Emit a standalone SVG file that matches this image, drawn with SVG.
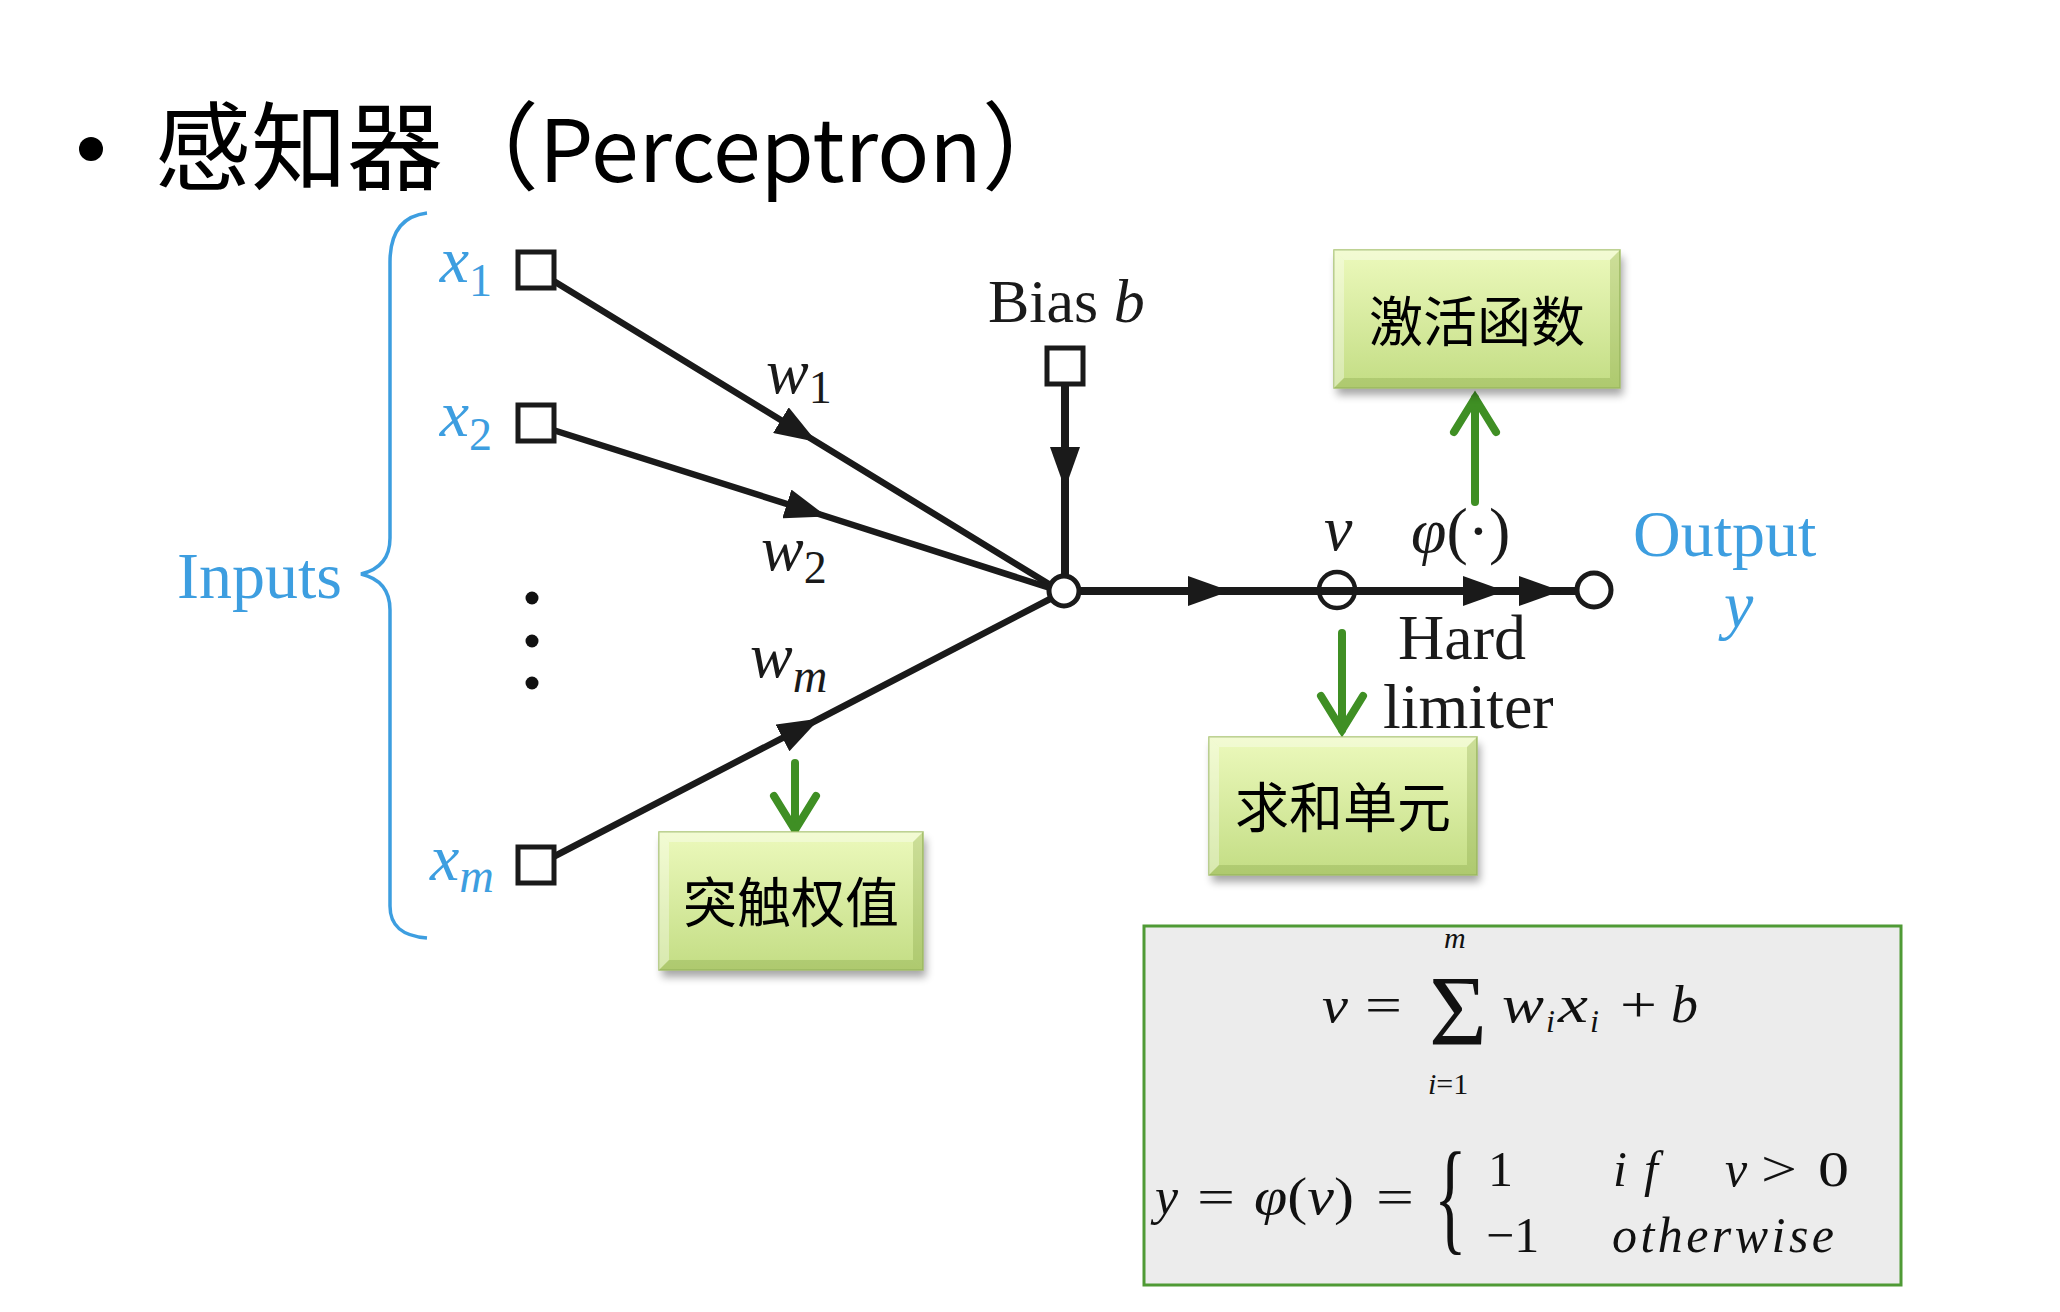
<svg xmlns="http://www.w3.org/2000/svg" width="2060" height="1312" viewBox="0 0 2060 1312">
<style>
.it{font-style:italic;}
.lbl{font-family:"Liberation Serif","Times New Roman",serif;font-size:64px;fill:#1a1a1a;}
.blbl{font-family:"Liberation Serif","Times New Roman",serif;font-size:66px;fill:#3d9ee0;}
.fm{font-family:"Liberation Serif","Times New Roman",serif;font-size:50px;fill:#111;}
.cn{font-family:"Noto Sans CJK SC",sans-serif;font-size:54px;fill:#000;text-anchor:middle;}
.wire{fill:none;stroke:#1a1a1a;stroke-width:6.5;}
.wire2{fill:none;stroke:#1a1a1a;stroke-width:8;}
.sq{fill:#fff;stroke:#1a1a1a;stroke-width:5;}
.garrow{fill:none;stroke:#3f8f24;stroke-width:8;stroke-linecap:round;stroke-linejoin:miter;}
.bevL{fill:#ffffff;opacity:0.35;}
.bevD{fill:#6f8f2f;opacity:0.25;}
</style>
<defs>
<linearGradient id="gg" x1="0" y1="0" x2="0" y2="1">
<stop offset="0" stop-color="#ecf9bc"/>
<stop offset="1" stop-color="#c3dd84"/>
</linearGradient>
<filter id="sh" x="-10%" y="-10%" width="120%" height="130%">
<feGaussianBlur stdDeviation="4"/>
</filter>
<marker id="tri" markerUnits="userSpaceOnUse" viewBox="0 0 42 30" refX="40" refY="15" markerWidth="42" markerHeight="30" orient="auto">
<path d="M0,0 L42,15 L0,30 Z" fill="#1a1a1a"/>
</marker>
</defs>
<rect width="2060" height="1312" fill="#fff"/>

<g id="title">
<circle cx="91" cy="149" r="12" fill="#000"/>
<text x="155" y="182" font-family="'Noto Sans CJK SC',sans-serif" font-size="96" fill="#000">感知器（<tspan font-size="86">Perceptron</tspan>）</text>
</g>

<g id="inputs-brace">
<path d="M427,213 C402,216 390,232 390,262 L390,538 C390,560 378,570 361,574 C378,578 390,588 390,610 L390,906 C390,926 402,936 427,938" fill="none" stroke="#3d9ee0" stroke-width="3.5"/>
<text class="blbl" x="177" y="598">Inputs</text>
</g>

<g id="connectors">
<polyline class="wire" points="552,280 815,441 1052,586" marker-mid="url(#tri)"/>
<polyline class="wire" points="553,430 825,516 1050,588" marker-mid="url(#tri)"/>
<polyline class="wire" points="553,857 818,719.5 1052,598" marker-mid="url(#tri)"/>
<polyline class="wire2" points="1065,384 1065,487 1065,576" marker-mid="url(#tri)"/>
<polyline class="wire2" points="1079,591 1228,591 1503,591 1559,591 1577,591" marker-mid="url(#tri)"/>
<polyline class="garrow" points="795,763 795,830"/>
<polyline class="garrow" points="774,796 795,830 816,796"/>
<polyline class="garrow" points="1342,633 1342,730"/>
<polyline class="garrow" points="1321,696 1342,730 1363,696"/>
<polyline class="garrow" points="1475,502 1475,398"/>
<polyline class="garrow" points="1454,432 1475,398 1496,432"/>
</g>

<g id="x1">
<rect class="sq" x="518" y="252" width="36" height="36"/>
<text class="blbl it" x="492" y="282" text-anchor="end">x<tspan dy="14" font-size="46" font-style="normal">1</tspan></text>
</g>
<g id="x2">
<rect class="sq" x="518" y="405" width="36" height="36"/>
<text class="blbl it" x="492" y="436" text-anchor="end">x<tspan dy="14" font-size="46" font-style="normal">2</tspan></text>
</g>
<g id="dots">
<circle cx="532" cy="598" r="6.5" fill="#111"/>
<circle cx="532" cy="641" r="6.5" fill="#111"/>
<circle cx="532" cy="683" r="6.5" fill="#111"/>
</g>
<g id="xm">
<rect class="sq" x="518" y="847" width="36" height="36"/>
<text class="blbl it" x="494" y="880" text-anchor="end">x<tspan dy="12" font-size="48">m</tspan></text>
</g>

<g id="weights">
<text class="lbl it" x="766" y="393">w<tspan dy="10" font-size="46" font-style="normal">1</tspan></text>
<text class="lbl it" x="761" y="570">w<tspan dy="13" font-size="46" font-style="normal">2</tspan></text>
<text class="lbl it" x="750" y="677">w<tspan dy="15" font-size="48">m</tspan></text>
</g>

<g id="bias">
<rect class="sq" x="1047" y="348" width="36" height="36"/>
<text class="lbl" x="988" y="322" style="font-size:62px">Bias <tspan font-style="italic">b</tspan></text>
</g>

<g id="sum-node">
<circle cx="1064" cy="591" r="15" fill="#fff" stroke="#1a1a1a" stroke-width="5"/>
</g>

<g id="v-node">
<circle cx="1337" cy="590" r="18" fill="none" stroke="#1a1a1a" stroke-width="4.5"/>
<text class="lbl it" x="1324" y="550">v</text>
</g>

<g id="limiter">
<text class="lbl" x="1411" y="552"><tspan font-style="italic">φ</tspan>(·)</text>
<text class="lbl" x="1398" y="659">Hard</text>
<text class="lbl" x="1383" y="728">limiter</text>
</g>

<g id="output">
<circle cx="1594" cy="590" r="17" fill="#fff" stroke="#1a1a1a" stroke-width="5"/>
<text class="blbl" x="1633" y="556">Output</text>
<text class="blbl it" x="1724" y="627">y</text>
</g>

<g id="box-activation">
<rect x="1337" y="257" width="286" height="138" fill="#000" opacity="0.35" filter="url(#sh)"/>
<rect x="1334" y="250" width="286" height="138" fill="url(#gg)" stroke="#a9c470" stroke-width="1.5"/>
<polygon class="bevL" points="1334,250 1620,250 1610,260 1344,260"/>
<polygon class="bevL" points="1334,250 1344,260 1344,378 1334,388"/>
<polygon class="bevD" points="1620,250 1620,388 1610,378 1610,260"/>
<polygon class="bevD" points="1334,388 1620,388 1610,378 1344,378"/>
<text class="cn" x="1477" y="342">激活函数</text>
</g>

<g id="box-sum">
<rect x="1212" y="744" width="268" height="138" fill="#000" opacity="0.35" filter="url(#sh)"/>
<rect x="1209" y="737" width="268" height="138" fill="url(#gg)" stroke="#a9c470" stroke-width="1.5"/>
<polygon class="bevL" points="1209,737 1477,737 1467,747 1219,747"/>
<polygon class="bevL" points="1209,737 1219,747 1219,865 1209,875"/>
<polygon class="bevD" points="1477,737 1477,875 1467,865 1467,747"/>
<polygon class="bevD" points="1209,875 1477,875 1467,865 1219,865"/>
<text class="cn" x="1343" y="828">求和单元</text>
</g>

<g id="box-weights">
<rect x="662" y="839" width="264" height="138" fill="#000" opacity="0.35" filter="url(#sh)"/>
<rect x="659" y="832" width="264" height="138" fill="url(#gg)" stroke="#a9c470" stroke-width="1.5"/>
<polygon class="bevL" points="659,832 923,832 913,842 669,842"/>
<polygon class="bevL" points="659,832 669,842 669,960 659,970"/>
<polygon class="bevD" points="923,832 923,970 913,960 913,842"/>
<polygon class="bevD" points="659,970 923,970 913,960 669,960"/>
<text class="cn" x="791" y="923">突触权值</text>
</g>

<g id="formula">
<rect x="1144" y="926" width="757" height="359" fill="#ececec" stroke="#4f9a35" stroke-width="3"/>
<text class="fm it" x="1322" y="1022" textLength="26" lengthAdjust="spacingAndGlyphs">v</text>
<text class="fm" x="1365" y="1022" textLength="37" lengthAdjust="spacingAndGlyphs">=</text>
<text class="fm" x="1429" y="1044" style="font-size:100px" textLength="58" lengthAdjust="spacingAndGlyphs">Σ</text>
<text class="fm it" x="1444" y="948" style="font-size:30px">m</text>
<text class="fm" x="1428" y="1094" style="font-size:30px"><tspan font-style="italic">i</tspan>=1</text>
<text class="fm it" x="1502" y="1022" style="font-size:52px" textLength="42" lengthAdjust="spacingAndGlyphs">w</text>
<text class="fm it" x="1546" y="1032" style="font-size:32px">i</text>
<text class="fm it" x="1558" y="1022" style="font-size:52px" textLength="30" lengthAdjust="spacingAndGlyphs">x</text>
<text class="fm it" x="1590" y="1032" style="font-size:32px">i</text>
<text class="fm" x="1620" y="1022" textLength="37" lengthAdjust="spacingAndGlyphs">+</text>
<text class="fm it" x="1671" y="1022" style="font-size:52px" textLength="27" lengthAdjust="spacingAndGlyphs">b</text>

<text class="fm it" x="1155" y="1214" style="font-size:52px">y</text>
<text class="fm" x="1197" y="1214" textLength="38" lengthAdjust="spacingAndGlyphs">=</text>
<text class="fm" x="1254" y="1214" style="font-size:52px" textLength="100" lengthAdjust="spacingAndGlyphs"><tspan font-style="italic">φ</tspan>(<tspan font-style="italic">v</tspan>)</text>
<text class="fm" x="1376" y="1214" textLength="38" lengthAdjust="spacingAndGlyphs">=</text>
<text class="fm" transform="translate(1434,1238) scale(0.55,1)" x="0" y="0" style="font-size:124px">{</text>
<text class="fm" x="1488" y="1186">1</text>
<text class="fm it" x="1613" y="1186" textLength="45" lengthAdjust="spacing">if</text>
<text class="fm it" x="1725" y="1186">v</text>
<text class="fm" x="1761" y="1186" textLength="36" lengthAdjust="spacingAndGlyphs">&gt;</text>
<text class="fm" x="1818" y="1186" textLength="31" lengthAdjust="spacingAndGlyphs">0</text>
<text class="fm" x="1486" y="1252">−1</text>
<text class="fm it" x="1612" y="1252" textLength="222" lengthAdjust="spacing">otherwise</text>
</g>
</svg>
